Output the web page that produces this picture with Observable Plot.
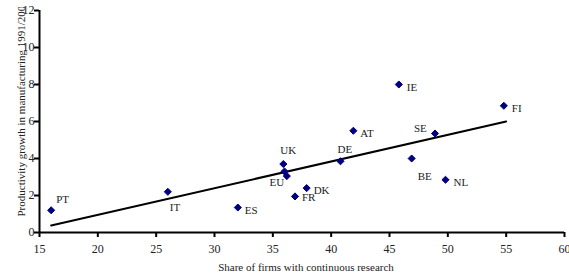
<!DOCTYPE html>
<html>
<head>
<meta charset="utf-8">
<script src="https://cdn.jsdelivr.net/npm/d3@7"></script>
<script src="https://cdn.jsdelivr.net/npm/@observablehq/plot@0.6"></script>
<style>
  html, body { margin: 0; padding: 0; background: #fff; }
  svg { overflow: hidden; }
</style>
</head>
<body>
<div id="chart"></div>
<script>
// Data
const countries = ["PT", "IT", "ES", "UK", "EU", "", "DK", "FR", "DE", "AT", "IE", "FI", "SE", "BE", "NL"];
const research  = [16, 26, 32, 35.9, 36.0, 36.2, 37.9, 36.9, 40.8, 41.9, 45.8, 54.8, 48.9, 46.9, 49.8];
const productivity = [1.2, 2.2, 1.35, 3.7, 3.3, 3.05, 2.4, 1.95, 3.85, 5.5, 8.0, 6.85, 5.35, 4.0, 2.85];
const trendX = [16, 55];
const trendY = [0.38, 6.0];
const xTicks = [15, 20, 25, 30, 35, 40, 45, 50, 55, 60];
const yTicks = [0, 2, 4, 6, 8, 10, 12];
const xTitle = "Share of firms with continuous research";
const yTitle = "Productivity growth in manufacturing 1991/2001";

// label placement (style, not data)
const labelOffset = {
  PT: [5, -11], IT: [2, 16], ES: [7, 3], UK: [-3, -14], EU: [-15, 11],
  DK: [7, 2], FR: [7, 1], DE: [-3, -12], AT: [7, 3], IE: [8, 3],
  FI: [8, 3], SE: [-21, -5], BE: [6, 18], NL: [8, 3]
};

const points = countries.map((c, i) => ({c, x: research[i], y: productivity[i]}));
const labeled = points.filter(d => d.c);
const trend = trendX.map((x, i) => ({x, y: trendY[i]}));

const labelMarks = labeled.map(d => Plot.text([d], {
  x: "x", y: "y", text: "c",
  dx: labelOffset[d.c][0], dy: labelOffset[d.c][1],
  textAnchor: "start", fill: "#222", fontSize: 11
}));

const chart = Plot.plot({
  width: 569,
  height: 278,
  marginLeft: 39,
  marginRight: 5,
  marginTop: 10,
  marginBottom: 46,
  style: { fontFamily: "'Liberation Serif', 'Times New Roman', serif", fontSize: "12px", background: "#fff", color: "#222" },
  x: { domain: [15, 60] },
  y: { domain: [0, 12] },
  marks: [
    Plot.axisX({ ticks: xTicks, tickSize: 5, tickPadding: 7, strokeWidth: 2, label: null, stroke: "#000" }),
    Plot.axisY({ ticks: yTicks, tickSize: 5, tickPadding: 0, strokeWidth: 2, label: null, stroke: "#000" }),
    Plot.ruleY([0], { stroke: "#000", strokeWidth: 2 }),
    Plot.ruleX([15], { stroke: "#000", strokeWidth: 2 }),
    Plot.line(trend, { x: "x", y: "y", stroke: "#000", strokeWidth: 2 }),
    Plot.dot(points, { x: "x", y: "y", symbol: "diamond2", r: 3.2, fill: "#000080", stroke: "#000080", strokeWidth: 1 }),
    ...labelMarks,
    Plot.text([xTitle], { frameAnchor: "bottom", text: d => d, dx: 4, dy: 38, fontSize: 11, fill: "#222" }),
    Plot.text([yTitle], { frameAnchor: "bottom-left", text: d => d, rotate: -90, textAnchor: "start", dx: -15, dy: -16, fontSize: 11, fill: "#222", className: "ytitle" })
  ]
});
// clip the y title at the top like the original
const svg = d3.select(chart);
const defs = svg.insert("defs", ":first-child");
svg.selectAll(".ytitle").each(function () {
  // account for any translate on the mark group (dx/dy)
  const m = /translate\(([-\d.]+)\s*,?\s*([-\d.]+)\)/.exec(this.getAttribute("transform") || "");
  const tx = m ? +m[1] : 0, ty = m ? +m[2] : 0;
  defs.append("clipPath").attr("id", "ytclip")
    .append("rect").attr("x", -tx).attr("y", 7 - ty).attr("width", 36).attr("height", 300);
  d3.select(this).attr("clip-path", "url(#ytclip)");
});
document.getElementById("chart").appendChild(chart);
</script>
</body>
</html>
